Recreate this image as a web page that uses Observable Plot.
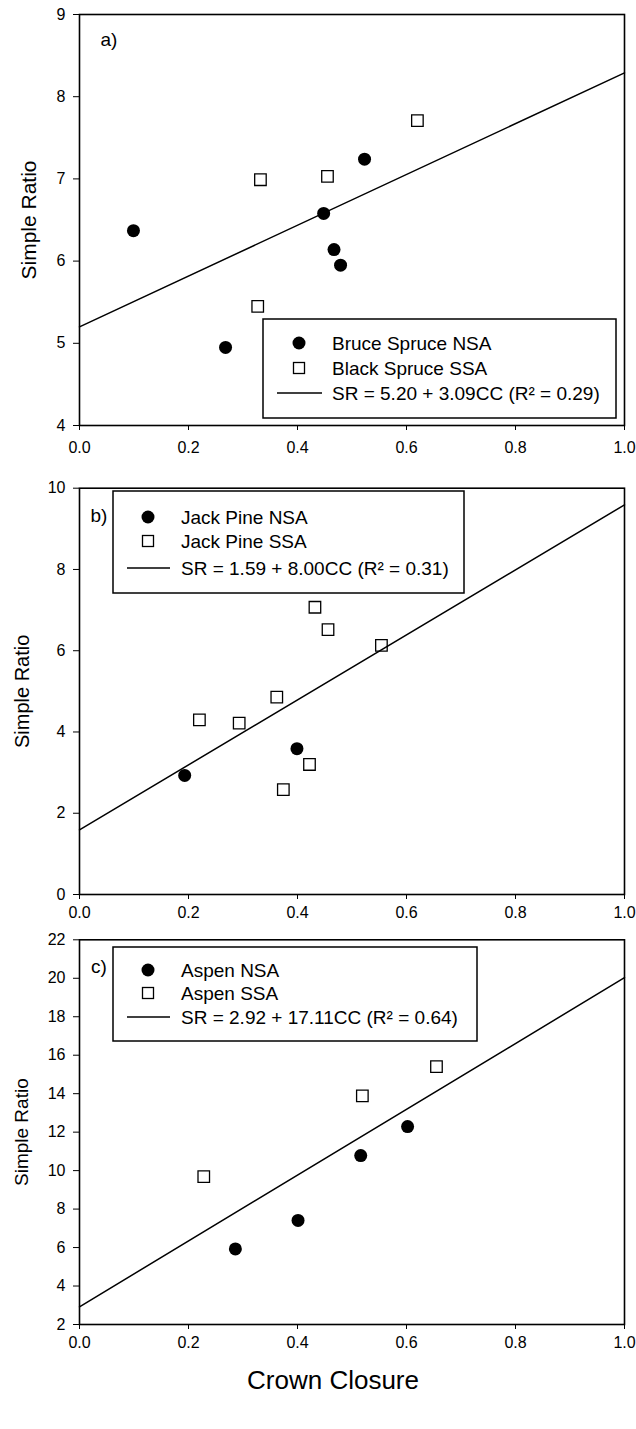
<!DOCTYPE html>
<html><head><meta charset="utf-8">
<script src="https://cdn.jsdelivr.net/npm/d3@7"></script>
<script src="https://cdn.jsdelivr.net/npm/@observablehq/plot@0.6"></script>
<style>
body{margin:0;background:#fff;}
#chart{width:636px;}
#chart svg{display:block;overflow:visible}
</style></head><body><div id="chart"></div>
<script>
// ---- Data ----
const xTicks = [0, 0.2, 0.4, 0.6, 0.8, 1.0];

// Panel a) spruce
const aNsaCC = [0.099, 0.268, 0.448, 0.467, 0.479, 0.523];
const aNsaSR = [6.37, 4.95, 6.58, 6.14, 5.95, 7.24];
const aSsaCC = [0.327, 0.332, 0.455, 0.620];
const aSsaSR = [5.45, 6.99, 7.03, 7.71];
const aLabels = ["Bruce Spruce NSA", "Black Spruce SSA", "SR = 5.20 + 3.09CC (R² = 0.29)"];
const aYTicks = [4, 5, 6, 7, 8, 9];

// Panel b) jack pine
const bNsaCC = [0.193, 0.399];
const bNsaSR = [2.93, 3.59];
const bSsaCC = [0.220, 0.293, 0.362, 0.374, 0.422, 0.432, 0.456, 0.554];
const bSsaSR = [4.30, 4.22, 4.86, 2.58, 3.20, 7.07, 6.52, 6.13];
const bLabels = ["Jack Pine NSA", "Jack Pine SSA", "SR = 1.59 + 8.00CC (R² = 0.31)"];
const bYTicks = [0, 2, 4, 6, 8, 10];

// Panel c) aspen
const cNsaCC = [0.286, 0.401, 0.516, 0.602];
const cNsaSR = [5.93, 7.41, 10.78, 12.29];
const cSsaCC = [0.228, 0.519, 0.655];
const cSsaSR = [9.69, 13.89, 15.41];
const cLabels = ["Aspen NSA", "Aspen SSA", "SR = 2.92 + 17.11CC (R² = 0.64)"];
const cYTicks = [2, 4, 6, 8, 10, 12, 14, 16, 18, 20, 22];

const fitIntercept = [5.20, 1.59, 2.92];
const fitSlope = [3.09, 8.00, 17.11];
const panelTags = ["a)", "b)", "c)"];

// ---- Layout ----
const FONT = "'Liberation Sans', Arial, Helvetica, sans-serif";
const panels = [
  {tag: panelTags[0], nCC: aNsaCC, nSR: aNsaSR, sCC: aSsaCC, sSR: aSsaSR, labels: aLabels, yTicks: aYTicks,
   yDomain: [4, 9], a: fitIntercept[0], b: fitSlope[0],
   height: 470, mt: 14, mb: 45, xPad: 11.2, tagDx: 21, tagDy: 25, ylabDx: -50.5, ylabSize: 21,
   legend: {x: 263, y: 319, w: 353, h: 99, sx: 299, rows: [343, 368, 393], lx0: 277, lx1: 322, tx: 332}},
  {tag: panelTags[1], nCC: bNsaCC, nSR: bNsaSR, sCC: bSsaCC, sSR: bSsaSR, labels: bLabels, yTicks: bYTicks,
   yDomain: [0, 10], a: fitIntercept[1], b: fitSlope[1],
   height: 450, mt: 17.7, mb: 26, xPad: 7.2, tagDx: 11, tagDy: 28, ylabDx: -57.3, ylabSize: 20,
   legend: {x: 113, y: 21, w: 351, h: 102, sx: 148, rows: [47, 71, 98], lx0: 127, lx1: 170, tx: 181}},
  {tag: panelTags[2], nCC: cNsaCC, nSR: cNsaSR, sCC: cSsaCC, sSR: cSsaSR, labels: cLabels, yTicks: cYTicks,
   yDomain: [2, 22], a: fitIntercept[2], b: fitSlope[2],
   height: 509, mt: 19.3, mb: 105, xPad: 7.2, tagDx: 11.5, tagDy: 27.5, ylabDx: -57.3, ylabSize: 19,
   legend: {x: 113, y: 27, w: 364, h: 94, sx: 148, rows: [50, 73, 97], lx0: 127, lx1: 170, tx: 181},
   xlabel: "Crown Closure"}
];

const root = document.getElementById("chart");

for (const p of panels) {
  const nsa = p.nCC.map((cc, i) => ({cc, sr: p.nSR[i]}));
  const ssa = p.sCC.map((cc, i) => ({cc, sr: p.sSR[i]}));
  const fit = [0, 1].map(cc => ({cc, sr: p.a + p.b * cc}));
  const marks = [
    Plot.line(fit, {x: "cc", y: "sr", stroke: "#000", strokeWidth: 1.5}),
    Plot.dot(ssa, {x: "cc", y: "sr", symbol: "square", r: 6.5, stroke: "#000", fill: "none", strokeWidth: 1.3}),
    Plot.dot(nsa, {x: "cc", y: "sr", r: 6.5, fill: "#000", stroke: "none"}),
    Plot.frame({stroke: "#000", strokeWidth: 1.6}),
    Plot.text([p.tag], {frameAnchor: "top-left", dx: p.tagDx, dy: p.tagDy, textAnchor: "start", lineAnchor: "middle", fontSize: 19, fill: "#000"}),
    Plot.text(["Simple Ratio"], {frameAnchor: "left", rotate: -90, dx: p.ylabDx, textAnchor: "middle", lineAnchor: "middle", fontSize: p.ylabSize, fill: "#000"})
  ];
  if (p.xlabel) {
    marks.push(Plot.text([p.xlabel], {frameAnchor: "bottom", dy: 56, dx: -19, lineAnchor: "middle", fontSize: 26, fill: "#000"}));
  }
  const chart = Plot.plot({
    width: 636, height: p.height,
    marginLeft: 79, marginRight: 12, marginTop: p.mt, marginBottom: p.mb,
    style: {fontFamily: FONT, fontSize: "16px", color: "#000", background: "#fff", overflow: "visible"},
    x: {domain: [0, 1], ticks: xTicks, tickFormat: d3.format(".1f"), tickSize: 5, tickPadding: p.xPad, label: null},
    y: {domain: p.yDomain, ticks: p.yTicks, tickFormat: d => String(d), tickSize: 6, tickPadding: 8, label: null},
    marks
  });

  // Legend box drawn inside the SVG
  const L = p.legend;
  const g = d3.select(chart).append("g").attr("font-family", FONT).attr("font-size", 19).attr("text-anchor", "start");
  g.append("rect").attr("x", L.x).attr("y", L.y).attr("width", L.w).attr("height", L.h)
    .attr("fill", "#fff").attr("stroke", "#000").attr("stroke-width", 1.5);
  g.append("circle").attr("cx", L.sx).attr("cy", L.rows[0]).attr("r", 6.5).attr("fill", "#000");
  g.append("rect").attr("x", L.sx - 5.5).attr("y", L.rows[1] - 5.5).attr("width", 11).attr("height", 11)
    .attr("fill", "none").attr("stroke", "#000").attr("stroke-width", 1.3);
  g.append("line").attr("x1", L.lx0).attr("x2", L.lx1).attr("y1", L.rows[2]).attr("y2", L.rows[2])
    .attr("stroke", "#000").attr("stroke-width", 1.5);
  p.labels.forEach((t, i) => {
    g.append("text").attr("x", L.tx).attr("y", L.rows[i]).attr("dy", "0.36em")
      .attr("text-anchor", "start").attr("fill", "#000").text(t);
  });

  root.appendChild(chart);
}
</script>
</body></html>
